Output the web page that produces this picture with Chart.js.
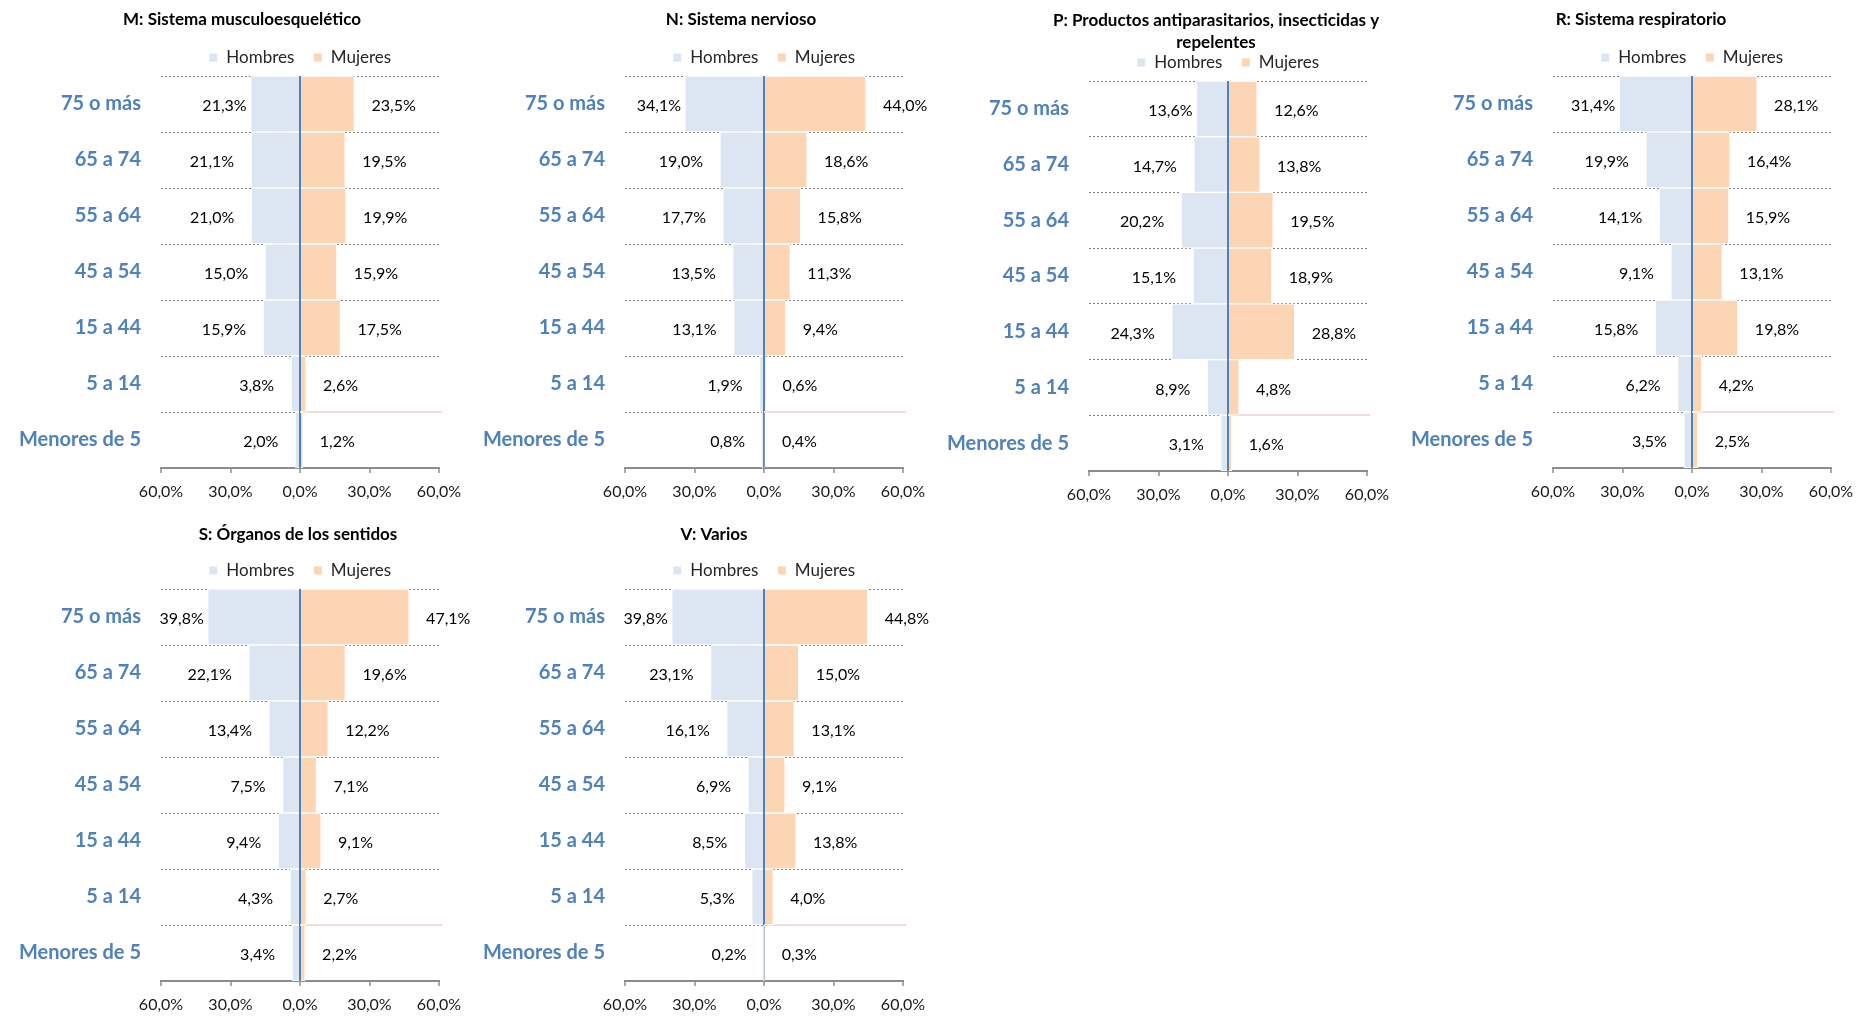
<!DOCTYPE html>
<html lang="es">
<head>
<meta charset="utf-8">
<title>Pirámides por grupo terapéutico</title>
<script src="https://cdn.jsdelivr.net/npm/chart.js@4.4.1/dist/chart.umd.min.js"></script>
<style>
    html, body { margin: 0; padding: 0; background: #fff; overflow: hidden; }
    #page { position: relative; width: 1856px; height: 1016px; }
    #page canvas { position: absolute; }
</style>
</head>
<body>
<div id="page">
    <canvas id="chartM"></canvas>
    <canvas id="chartN"></canvas>
    <canvas id="chartP"></canvas>
    <canvas id="chartR"></canvas>
    <canvas id="chartS"></canvas>
    <canvas id="chartV"></canvas>
</div>
<script>
const ageGroups = ['75 o más', '65 a 74', '55 a 64', '45 a 54', '15 a 44', '5 a 14', 'Menores de 5'];
const seriesNames = ['Hombres', 'Mujeres'];
const xTickValues = [-60, -30, 0, 30, 60];

const titleM = 'M: Sistema musculoesquelético';
const hombresM = [21.3, 21.1, 21.0, 15.0, 15.9, 3.8, 2.0];
const mujeresM = [23.5, 19.5, 19.9, 15.9, 17.5, 2.6, 1.2];

const titleN = 'N: Sistema nervioso';
const hombresN = [34.1, 19.0, 17.7, 13.5, 13.1, 1.9, 0.8];
const mujeresN = [44.0, 18.6, 15.8, 11.3, 9.4, 0.6, 0.4];

const titleP = ['P: Productos antiparasitarios, insecticidas y', 'repelentes'];
const hombresP = [13.6, 14.7, 20.2, 15.1, 24.3, 8.9, 3.1];
const mujeresP = [12.6, 13.8, 19.5, 18.9, 28.8, 4.8, 1.6];

const titleR = 'R: Sistema respiratorio';
const hombresR = [31.4, 19.9, 14.1, 9.1, 15.8, 6.2, 3.5];
const mujeresR = [28.1, 16.4, 15.9, 13.1, 19.8, 4.2, 2.5];

const titleS = 'S: Órganos de los sentidos';
const hombresS = [39.8, 22.1, 13.4, 7.5, 9.4, 4.3, 3.4];
const mujeresS = [47.1, 19.6, 12.2, 7.1, 9.1, 2.7, 2.2];

const titleV = 'V: Varios';
const hombresV = [39.8, 23.1, 16.1, 6.9, 8.5, 5.3, 0.2];
const mujeresV = [44.8, 15.0, 13.1, 9.1, 13.8, 4.0, 0.3];

// colocación de cada panel (píxeles de la página)
const panels = [
    { id: 'chartM', title: titleM, hombres: hombresM, mujeres: mujeresM, left: 0,    top: 0,   titleCenter: 242, height: 508, plotBottom: 468, padTop: 11, padBottom: 1,   lineH: 18 },
    { id: 'chartN', title: titleN, hombres: hombresN, mujeres: mujeresN, left: 464,  top: 0,   titleCenter: 277, height: 508, plotBottom: 468, padTop: 11, padBottom: 1,   lineH: 18 },
    { id: 'chartP', title: titleP, hombres: hombresP, mujeres: mujeresP, left: 928,  top: 0,   titleCenter: 288, height: 508, plotBottom: 471, padTop: 10, padBottom: -19, lineH: 22 },
    { id: 'chartR', title: titleR, hombres: hombresR, mujeres: mujeresR, left: 1392, top: 0,   titleCenter: 249, height: 508, plotBottom: 468, padTop: 11, padBottom: 1,   lineH: 18 },
    { id: 'chartS', title: titleS, hombres: hombresS, mujeres: mujeresS, left: 0,    top: 513, titleCenter: 298, height: 503, plotBottom: 468, padTop: 13, padBottom: -1,  lineH: 18 },
    { id: 'chartV', title: titleV, hombres: hombresV, mujeres: mujeresV, left: 464,  top: 513, titleCenter: 250, height: 503, plotBottom: 468, padTop: 13, padBottom: -1,  lineH: 18 }
];

const plotLeft = 161;
const plotRight = 439;
const fmt = v => Math.abs(v).toFixed(1).replace('.', ',') + '%';

// etiquetas de datos fuera del extremo de cada barra
const barLabels = {
    id: 'barLabels',
    afterDatasetsDraw(chart) {
        const ctx = chart.ctx;
        ctx.save();
        ctx.font = '16px Lato';
        ctx.fillStyle = '#000';
        ctx.textBaseline = 'middle';
        chart.data.datasets.forEach((ds, di) => {
            chart.getDatasetMeta(di).data.forEach((bar, i) => {
                if (di === 0) {
                    ctx.textAlign = 'right';
                    ctx.fillText(fmt(ds.data[i]), bar.x - (i === 0 ? 4 : 17), bar.y + 2);
                } else {
                    ctx.textAlign = 'left';
                    ctx.fillText(fmt(ds.data[i]), bar.x + 17, bar.y + 2);
                }
            });
        });
        ctx.restore();
    }
};

// línea rosa entre "5 a 14" y "Menores de 5" (lado mujeres)
const pinkLine = {
    id: 'pinkLine',
    beforeDatasetsDraw(chart) {
        const x = chart.scales.x, y = chart.scales.y;
        const yy = Math.round((y.getPixelForValue(5) + y.getPixelForValue(6)) / 2);
        const ctx = chart.ctx;
        ctx.save();
        ctx.strokeStyle = '#f2dcdb';
        ctx.lineWidth = 2;
        ctx.beginPath();
        ctx.moveTo(x.getPixelForValue(0), yy);
        ctx.lineTo(chart.chartArea.right + 3, yy);
        ctx.stroke();
        ctx.restore();
    }
};

document.addEventListener("DOMContentLoaded", function () {

    panels.forEach(p => {
        const canvas = document.getElementById(p.id);
        const width = p.titleCenter * 2;
        canvas.width = width;
        canvas.height = p.height;
        canvas.style.left = p.left + 'px';
        canvas.style.top = p.top + 'px';

        new Chart(canvas.getContext('2d'), {
            type: 'bar',
            data: {
                labels: ageGroups,
                datasets: [
                    {
                        label: seriesNames[0],
                        data: p.hombres.map(v => -v),
                        backgroundColor: '#dce6f2',
                        borderColor: '#ffffff',
                        borderWidth: 1,
                        barPercentage: 1,
                        categoryPercentage: 1
                    },
                    {
                        label: seriesNames[1],
                        data: p.mujeres,
                        backgroundColor: '#fcd5b5',
                        borderColor: '#ffffff',
                        borderWidth: 1,
                        barPercentage: 1,
                        categoryPercentage: 1
                    }
                ]
            },
            options: {
                indexAxis: 'y',
                responsive: false,
                animation: false,
                events: [],
                layout: { padding: 0 },
                plugins: {
                    title: {
                        display: true,
                        text: p.title,
                        color: '#000',
                        font: { family: 'Lato', size: 17, weight: 'bold', lineHeight: p.lineH + 'px' },
                        padding: { top: p.padTop, bottom: p.padBottom }
                    },
                    legend: {
                        position: 'top',
                        fullSize: false,
                        labels: {
                            boxWidth: 9,
                            boxHeight: 9,
                            padding: 19,
                            color: '#262626',
                            font: { family: 'Lato', size: 17 }
                        }
                    },
                    tooltip: { enabled: false }
                },
                scales: {
                    x: {
                        stacked: true,
                        min: -60,
                        max: 60,
                        z: 1,
                        afterBuildTicks: scale => {
                            scale.ticks = xTickValues.map(v => ({ value: v }));
                        },
                        afterFit: scale => {
                            scale.height = p.height - p.plotBottom;
                            scale.paddingLeft = 0;
                            scale.paddingRight = width - plotRight;
                        },
                        grid: {
                            drawOnChartArea: true,
                            color: c => (c.tick && c.tick.value === 0) ? '#4f81bd' : 'rgba(0,0,0,0)',
                            lineWidth: 2,
                            tickColor: '#8c8c8c',
                            tickWidth: 1.5,
                            tickLength: 5
                        },
                        border: { display: true, color: '#8c8c8c', width: 2 },
                        ticks: {
                            callback: v => fmt(v),
                            color: '#1a1a1a',
                            padding: 9,
                            maxRotation: 0,
                            font: { family: 'Lato', size: 16 }
                        }
                    },
                    y: {
                        stacked: true,
                        afterFit: scale => {
                            scale.width = plotLeft;
                            scale.paddingTop = 0;
                            scale.paddingBottom = 0;
                        },
                        grid: {
                            color: '#808080',
                            lineWidth: 1,
                            drawTicks: false
                        },
                        border: { display: false, dash: [2, 2] },
                        ticks: {
                            color: '#4f81bd',
                            padding: 20,
                            font: { family: 'Lato', size: 20, weight: 'bold' }
                        }
                    }
                }
            },
            plugins: [pinkLine, barLabels]
        });
    });
});
</script>
</body>
</html>
